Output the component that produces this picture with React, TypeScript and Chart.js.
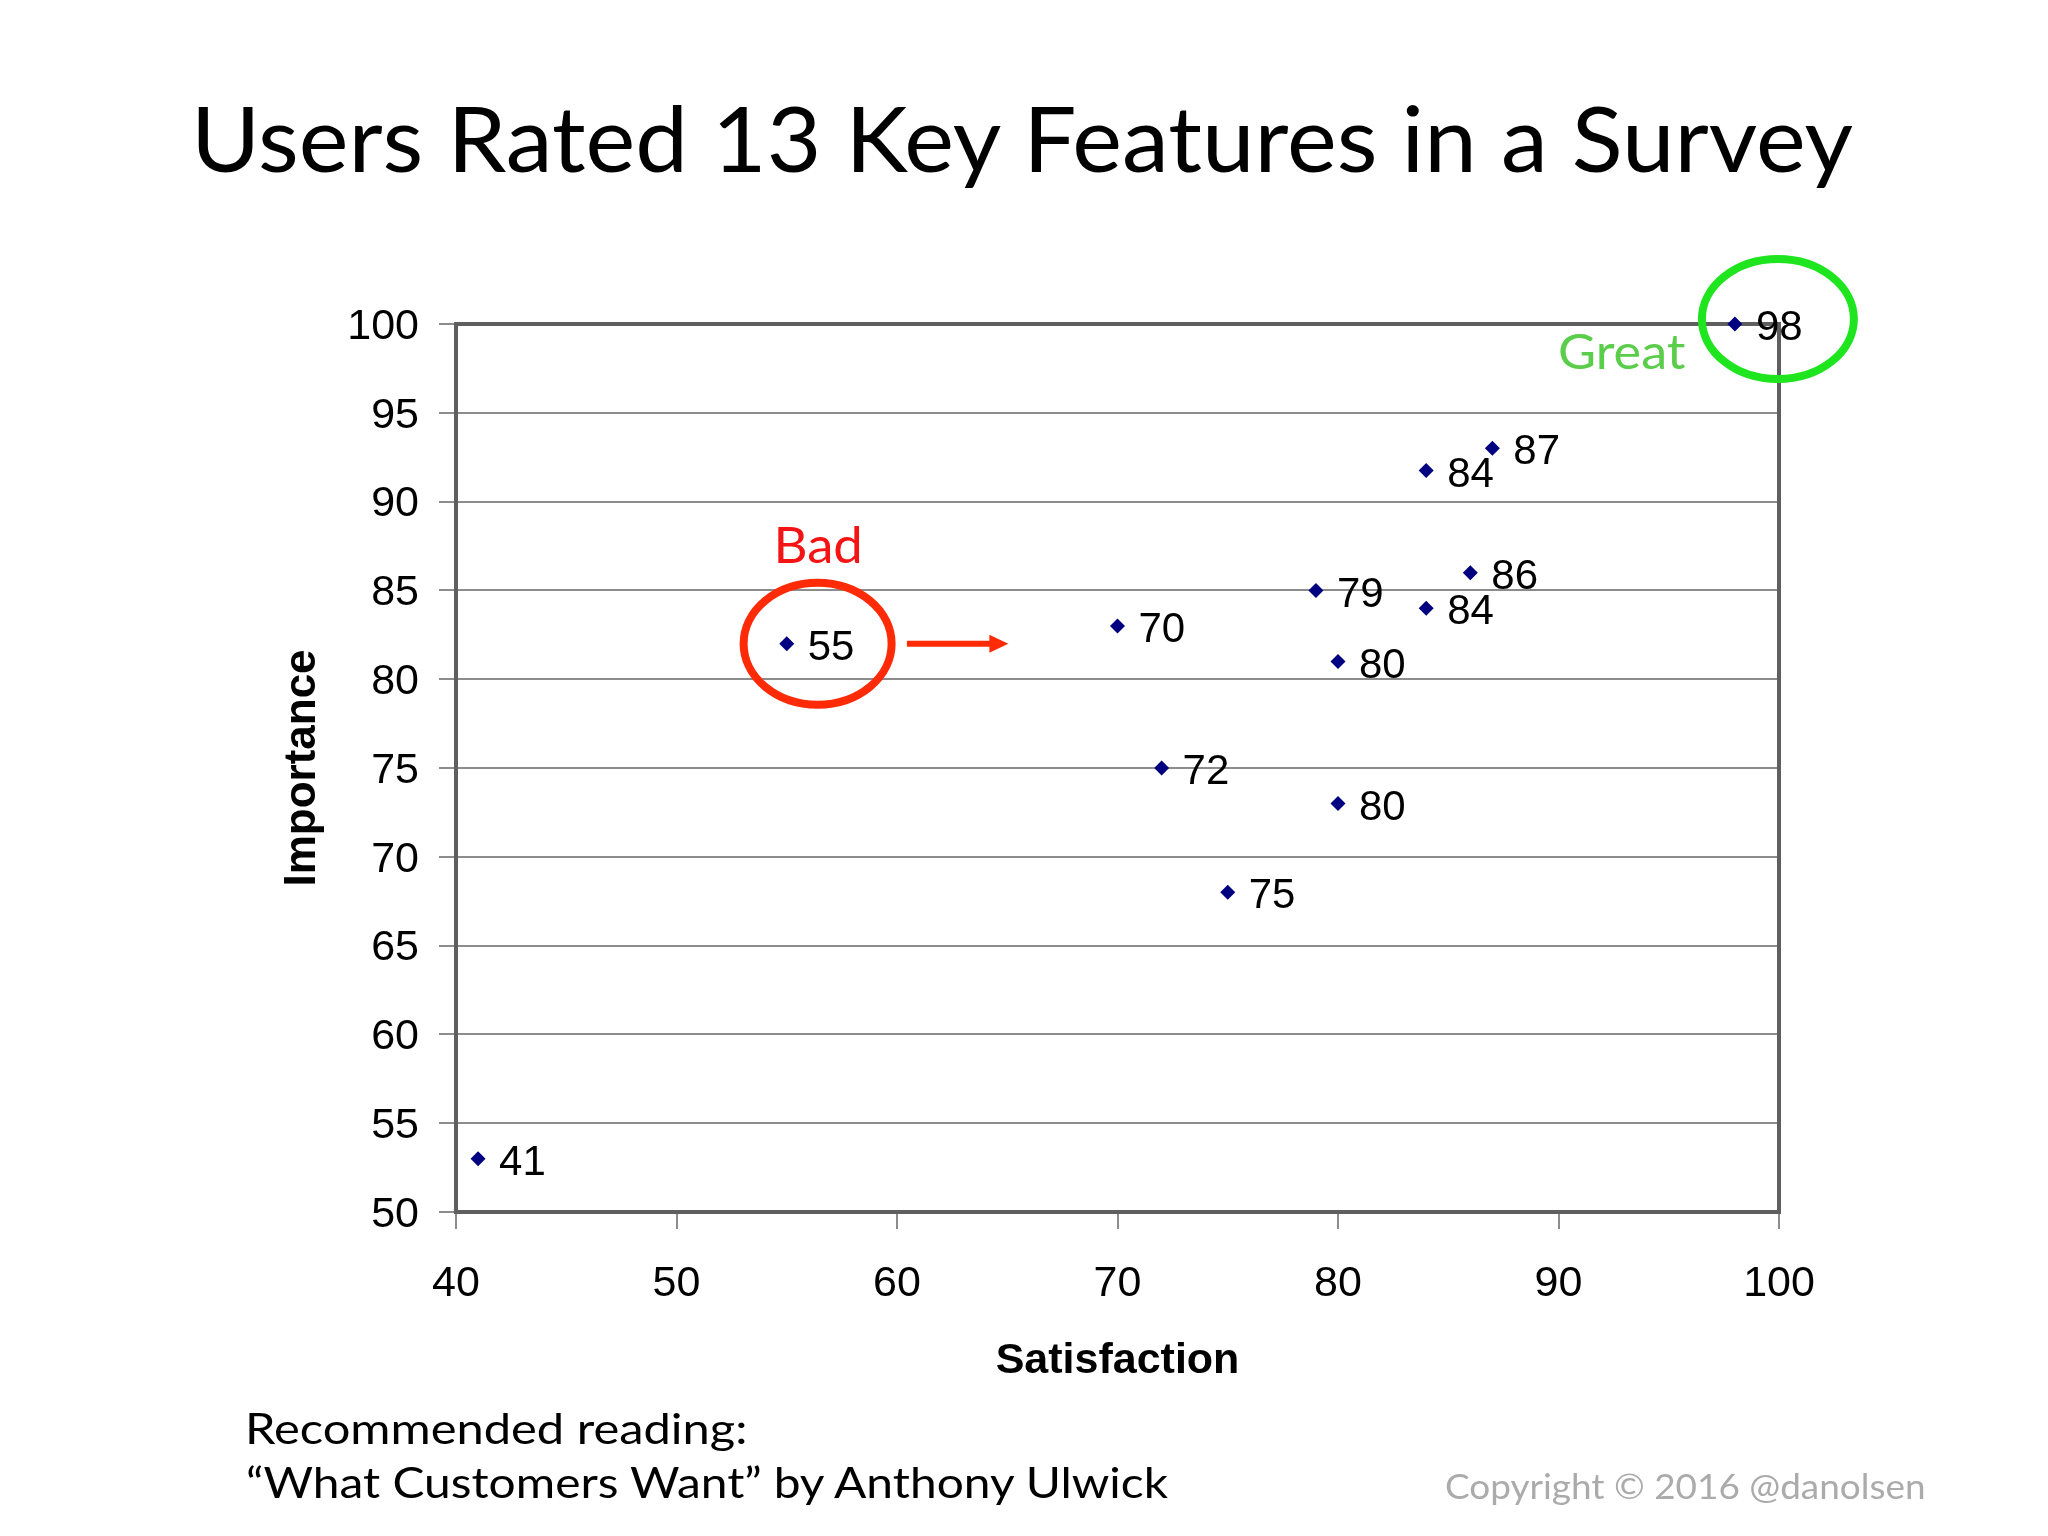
import React, { useEffect, useRef } from 'react';
import { Chart, registerables } from 'chart.js';

Chart.register(...registerables);

// ---------------- data ----------------
const satisfaction = [55, 70, 79, 84, 87, 86, 84, 80, 72, 80, 75, 41, 98];
const importance = [82, 83, 85, 91.75, 93, 86, 84, 81, 75, 73, 68, 53, 100];
const pointLabels = ['55', '70', '79', '84', '87', '86', '84', '80', '72', '80', '75', '41', '98'];
const xTicks = [40, 50, 60, 70, 80, 90, 100];
const yTicks = [50, 55, 60, 65, 70, 75, 80, 85, 90, 95, 100];

const chartTitle = 'Users Rated 13 Key Features in a Survey';
const xAxisTitle = 'Satisfaction';
const yAxisTitle = 'Importance';
const footLine1 = 'Recommended reading:';
const footLine2 = '\u201CWhat Customers Want\u201D by Anthony Ulwick';
const copyrightText = 'Copyright \u00A9 2016 @danolsen';
const badText = 'Bad';
const greatText = 'Great';

// annotation anchors (data coordinates)
const badCircle = { x: 56.4, y: 82 };
const badArrow = { x0: 60.45, x1: 65.05, y: 82 };
const badLabel = { x: 56.45, y: 86.55 };
const greatCircle = { x: 99.95, y: 100.28 };
const greatLabel = { x: 95.74, y: 97.47 };

// ---------------- styles ----------------
const ARIAL = '"Liberation Sans", Arial, sans-serif';
const CAL = 'Lato, "Open Sans", sans-serif';
const GRID = '#8c8c8c';
const FRAME = '#5f5f5f';
const MARKER = '#000080';
const RED = '#ff2b06';
const GREEN = '#1fe51f';

let measureCtx: CanvasRenderingContext2D | null = null;
function getCtx() {
  if (!measureCtx) measureCtx = document.createElement('canvas').getContext('2d');
  return measureCtx!;
}

function fitText(ctx: CanvasRenderingContext2D, text: string, family: string, weight: string, cap: number, width: number) {
  ctx.save();
  ctx.font = `${weight} 200px ${family}`;
  const capRatio = ctx.measureText('H').actualBoundingBoxAscent / 200;
  const size = cap / capRatio;
  ctx.font = `${weight} ${size}px ${family}`;
  const m = ctx.measureText(text);
  const ink = m.actualBoundingBoxLeft + m.actualBoundingBoxRight;
  const sx = width / ink;
  const res = {
    size,
    sx,
    abl: m.actualBoundingBoxLeft,
    asc: m.fontBoundingBoxAscent,
    desc: m.fontBoundingBoxDescent,
  };
  ctx.restore();
  return res;
}

function drawFit(
  ctx: CanvasRenderingContext2D,
  text: string,
  family: string,
  weight: string,
  cap: number,
  width: number,
  inkLeft: number,
  baseline: number,
  color: string
) {
  const f = fitText(ctx, text, family, weight, cap, width);
  ctx.save();
  ctx.font = `${weight} ${f.size}px ${family}`;
  ctx.textAlign = 'left';
  ctx.textBaseline = 'alphabetic';
  ctx.fillStyle = color;
  ctx.translate(inkLeft, baseline);
  ctx.scale(f.sx, 1);
  ctx.fillText(text, f.abl, 0);
  ctx.restore();
}

function FitLabel(props: {
  text: string;
  family: string;
  weight: string;
  cap: number;
  left: number;
  right: number;
  baseline: number;
  color: string;
}) {
  const { text, family, weight, cap, left, right, baseline, color } = props;
  const f = fitText(getCtx(), text, family, weight, cap, right - left);
  const top = baseline - (f.size + f.asc - f.desc) / 2;
  return (
    <div
      style={{
        position: 'absolute',
        left: left + f.abl * f.sx,
        top,
        whiteSpace: 'pre',
        fontFamily: family,
        fontWeight: weight as any,
        fontSize: `${f.size}px`,
        lineHeight: `${f.size}px`,
        color,
        transform: `scaleX(${f.sx})`,
        transformOrigin: '0 0',
      }}
    >
      {text}
    </div>
  );
}

function ellipse(ctx: CanvasRenderingContext2D, cx: number, cy: number, rx: number, ry: number, color: string, lw: number) {
  ctx.save();
  ctx.beginPath();
  ctx.ellipse(cx, cy, rx, ry, 0, 0, Math.PI * 2);
  ctx.strokeStyle = color;
  ctx.lineWidth = lw;
  ctx.stroke();
  ctx.restore();
}

const framePlugin = {
  id: 'frame',
  beforeDatasetsDraw(chart: any) {
    const { ctx, chartArea } = chart;
    ctx.save();
    ctx.strokeStyle = FRAME;
    ctx.lineWidth = 4;
    ctx.lineCap = 'square';
    ctx.beginPath();
    ctx.moveTo(chartArea.left, chartArea.top);
    ctx.lineTo(chartArea.right, chartArea.top);
    ctx.lineTo(chartArea.right, chartArea.bottom);
    ctx.stroke();
    ctx.restore();
  },
};

const labelPlugin = {
  id: 'pointLabels',
  afterDatasetsDraw(chart: any) {
    const { ctx } = chart;
    const meta = chart.getDatasetMeta(0);
    const size = 42;
    ctx.save();
    ctx.font = `${size}px ${ARIAL}`;
    ctx.fillStyle = '#000';
    ctx.textAlign = 'left';
    ctx.textBaseline = 'alphabetic';
    meta.data.forEach((pt: any, i: number) => {
      ctx.fillText(pointLabels[i], pt.x + 21, pt.y + 0.36 * size + 1);
    });
    ctx.restore();
  },
};

const annotationPlugin = {
  id: 'annotations',
  afterDraw(chart: any) {
    const { ctx } = chart;
    const xs = chart.scales.x;
    const ys = chart.scales.y;
    // red ellipse
    ellipse(ctx, xs.getPixelForValue(badCircle.x), ys.getPixelForValue(badCircle.y), 74, 61, RED, 8);
    // arrow
    const ax0 = xs.getPixelForValue(badArrow.x0);
    const ax1 = xs.getPixelForValue(badArrow.x1);
    const ay = ys.getPixelForValue(badArrow.y);
    ctx.save();
    ctx.strokeStyle = RED;
    ctx.fillStyle = RED;
    ctx.lineWidth = 6;
    ctx.beginPath();
    ctx.moveTo(ax0, ay);
    ctx.lineTo(ax1 - 16, ay);
    ctx.stroke();
    ctx.beginPath();
    ctx.moveTo(ax1, ay);
    ctx.lineTo(ax1 - 19, ay - 9);
    ctx.lineTo(ax1 - 19, ay + 9);
    ctx.closePath();
    ctx.fill();
    ctx.restore();
    // Bad
    const badW = 82;
    drawFit(ctx, badText, CAL, '400', 36, badW, xs.getPixelForValue(badLabel.x) - badW / 2, ys.getPixelForValue(badLabel.y), '#f41414');
    // green ellipse
    ellipse(ctx, xs.getPixelForValue(greatCircle.x), ys.getPixelForValue(greatCircle.y), 76, 60, GREEN, 8);
    // Great
    const greatW = 125;
    drawFit(ctx, greatText, CAL, '400', 35, greatW, xs.getPixelForValue(greatLabel.x) - greatW, ys.getPixelForValue(greatLabel.y), '#5acd4a');
  },
};

function ScatterChart() {
  const ref = useRef<HTMLCanvasElement | null>(null);
  useEffect(() => {
    if (!ref.current) return;
    const chart = new Chart(ref.current, {
      type: 'scatter',
      data: {
        datasets: [
          {
            data: satisfaction.map((x, i) => ({ x, y: importance[i] })),
            pointStyle: 'rectRot',
            pointRadius: 7.5,
            pointHoverRadius: 7.5,
            backgroundColor: MARKER,
            borderColor: MARKER,
            borderWidth: 0,
            clip: false,
          } as any,
        ],
      },
      options: {
        animation: false,
        responsive: false,
        devicePixelRatio: 1,
        events: [],
        layout: { padding: { left: 0, top: 324, right: 269, bottom: 0 } },
        plugins: {
          legend: { display: false },
          title: { display: false },
          tooltip: { enabled: false },
        },
        scales: {
          x: {
            type: 'linear',
            position: 'bottom',
            min: xTicks[0],
            max: xTicks[xTicks.length - 1],
            ticks: {
              stepSize: xTicks[1] - xTicks[0],
              color: '#000',
              font: { family: ARIAL, size: 43 },
              padding: 29,
              maxRotation: 0,
            },
            grid: { drawOnChartArea: false, drawTicks: true, tickLength: 17, color: GRID, lineWidth: 2 },
            border: { display: true, color: FRAME, width: 4 },
            title: {
              display: true,
              text: xAxisTitle,
              color: '#000',
              font: { family: ARIAL, size: 43, weight: 'bold' },
              padding: { top: 0, bottom: 149 },
            },
            afterFit: (s: any) => {
              s.height = 324;
            },
          },
          y: {
            type: 'linear',
            position: 'left',
            min: yTicks[0],
            max: yTicks[yTicks.length - 1],
            ticks: {
              stepSize: yTicks[1] - yTicks[0],
              color: '#000',
              font: { family: ARIAL, size: 43 },
              padding: 20,
              labelOffset: 3,
            },
            grid: { drawOnChartArea: true, drawTicks: true, tickLength: 17, color: GRID, lineWidth: 2 },
            border: { display: true, color: FRAME, width: 4 },
            title: {
              display: true,
              text: yAxisTitle,
              color: '#000',
              font: { family: ARIAL, size: 44, weight: 'bold' },
              padding: { top: 276, bottom: 0 },
            },
            afterFit: (s: any) => {
              s.width = 456;
            },
          },
        } as any,
      },
      plugins: [framePlugin, labelPlugin, annotationPlugin],
    });
    return () => chart.destroy();
  }, []);
  return (
    <canvas
      ref={ref}
      width={2048}
      height={1536}
      style={{ position: 'absolute', left: 0, top: 0, width: 2048, height: 1536 }}
    />
  );
}

export default function App() {
  return (
    <div style={{ position: 'fixed', left: 0, top: 0, width: 2048, height: 1536, background: '#fff', overflow: 'hidden' }}>
      <ScatterChart />
      <FitLabel text={chartTitle} family={CAL} weight="400" cap={66} left={198} right={1855} baseline={173} color="#000" />
      <FitLabel text={footLine1} family={CAL} weight="400" cap={31} left={248} right={745} baseline={1444} color="#000" />
      <FitLabel text={footLine2} family={CAL} weight="400" cap={31} left={248} right={1173} baseline={1498} color="#000" />
      <FitLabel text={copyrightText} family={CAL} weight="400" cap={25} left={1446} right={1924} baseline={1500} color="#ababab" />
    </div>
  );
}
